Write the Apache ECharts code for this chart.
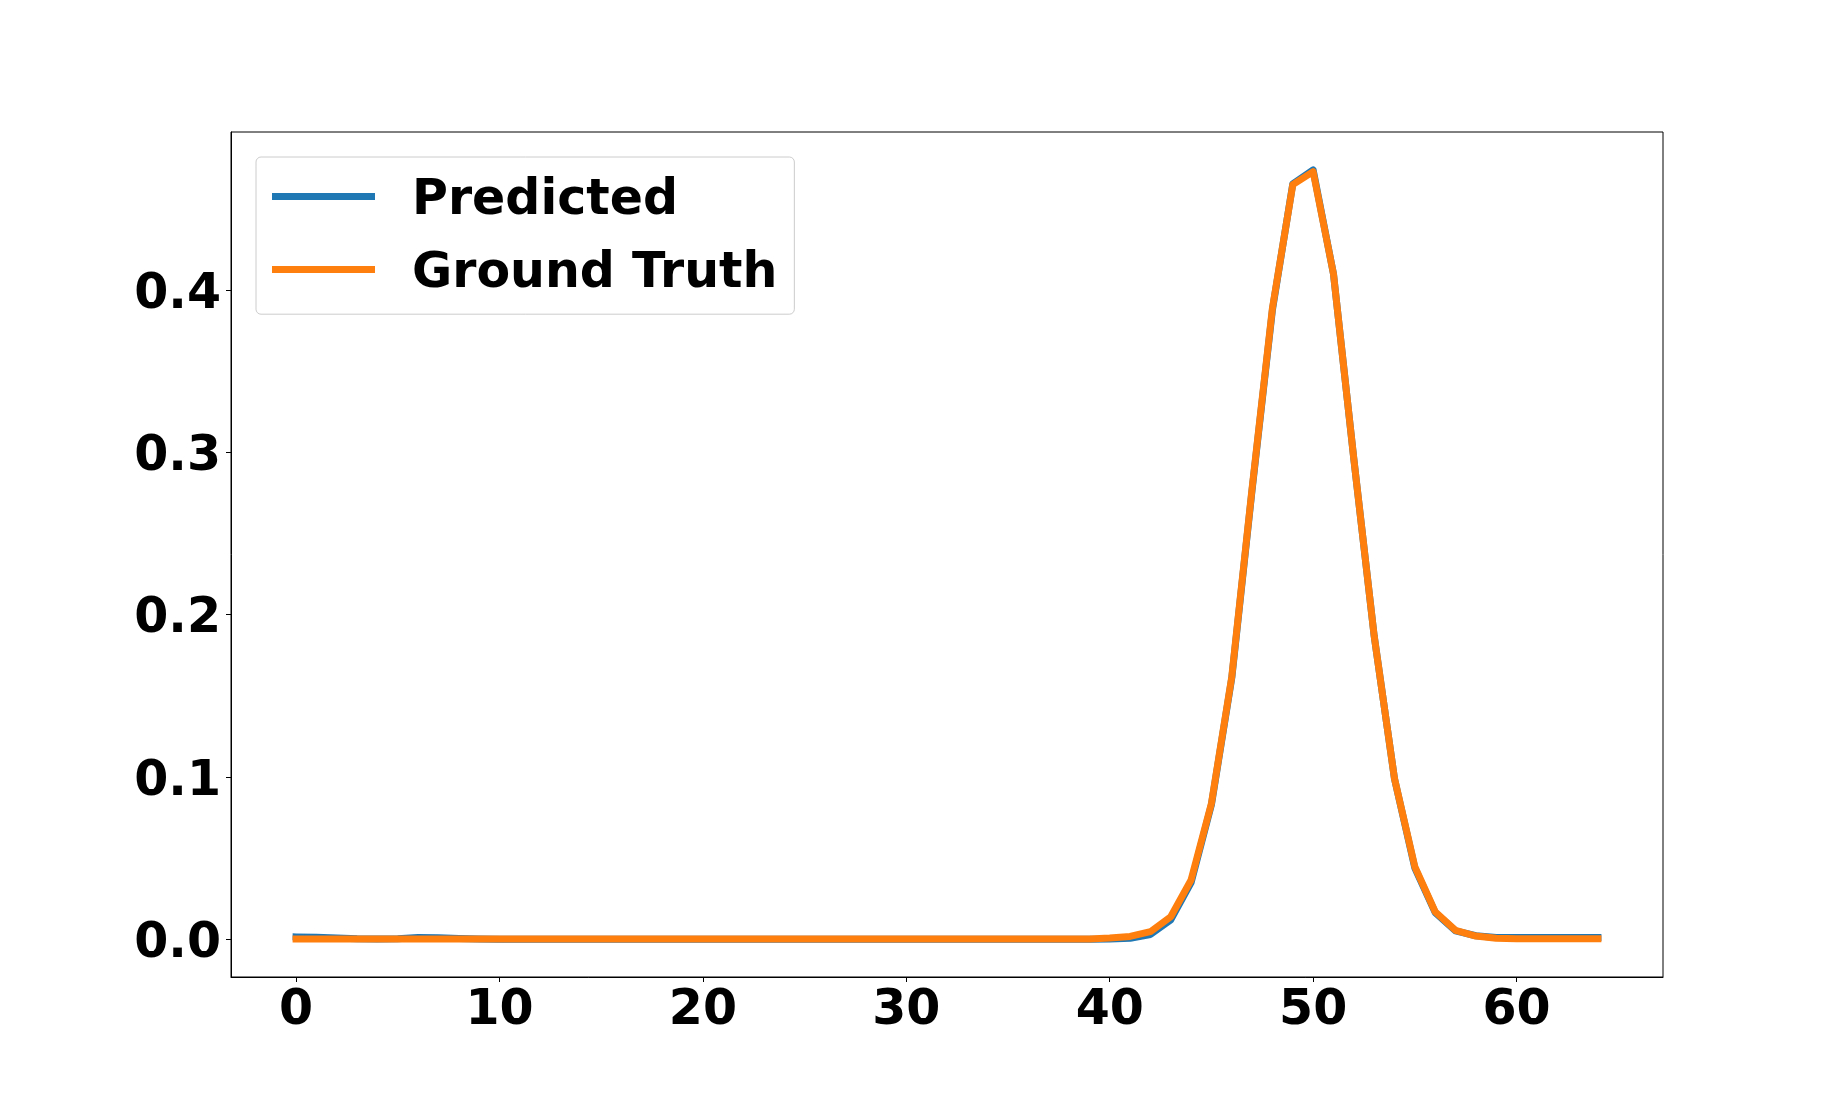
<!DOCTYPE html>
<html>
<head>
<meta charset="utf-8">
<script src="https://cdn.jsdelivr.net/npm/echarts@6/dist/echarts.min.js"></script>
<style>
html,body{margin:0;padding:0;background:#fff;}
#chart{width:1848px;height:1098px;}
</style>
</head>
<body>
<div id="chart"></div>
<script>
// x positions (sample index)
const steps = Array.from({length: 65}, (_, i) => i);

const predicted = [
  0.0015, 0.0013, 0.0009, 0.0003, 0.0002, 0.0004, 0.0012, 0.0010, 0.0005, 0.0002,
  0.0001, 0.0001, 0.0001, 0.0001, 0.0001, 0.0001, 0.0001, 0.0001, 0.0001, 0.0001,
  0.0001, 0.0001, 0.0001, 0.0001, 0.0001, 0.0001, 0.0001, 0.0001, 0.0001, 0.0001,
  0.0001, 0.0001, 0.0001, 0.0001, 0.0001, 0.0001, 0.0001, 0.0001, 0.0001, 0.0001,
  0.0002, 0.0006, 0.0030, 0.0120, 0.0350, 0.0830, 0.1610, 0.2770, 0.3880, 0.4655,
  0.4740, 0.4100, 0.2960, 0.1870, 0.0990, 0.0440, 0.0165, 0.0052, 0.0022, 0.0012,
  0.0012, 0.0012, 0.0012, 0.0012, 0.0012
];

const groundTruth = [
  0.0002, 0.0002, 0.0002, 0.0002, 0.0002, 0.0002, 0.0002, 0.0002, 0.0002, 0.0002,
  0.0002, 0.0002, 0.0002, 0.0002, 0.0002, 0.0002, 0.0002, 0.0002, 0.0002, 0.0002,
  0.0002, 0.0002, 0.0002, 0.0002, 0.0002, 0.0002, 0.0002, 0.0002, 0.0002, 0.0002,
  0.0002, 0.0002, 0.0002, 0.0002, 0.0002, 0.0002, 0.0002, 0.0002, 0.0002, 0.0002,
  0.0008, 0.0018, 0.0047, 0.0139, 0.0366, 0.0838, 0.1618, 0.2780, 0.3890, 0.4650,
  0.4730, 0.4100, 0.2960, 0.1870, 0.0990, 0.0447, 0.0170, 0.0055, 0.0020, 0.0007,
  0.0003, 0.0003, 0.0003, 0.0003, 0.0003
];

const xTicks = [0, 10, 20, 30, 40, 50, 60];
const yTicks = [0.0, 0.1, 0.2, 0.3, 0.4];

const seriesNames = ['Predicted', 'Ground Truth'];
const seriesColors = ['#1f77b4', '#ff7f0e'];

const FONT = 'DejaVu Sans';
const chart = echarts.init(document.getElementById('chart'), null, {renderer: 'canvas'});

const labelStyle = {
  fontFamily: FONT, fontWeight: 'bold', fontSize: 49, color: '#000'
};

const option = {
  animation: false,
  backgroundColor: '#fff',
  grid: {
    left: 231, right: 185, top: 132, bottom: 121,
    show: true, borderColor: '#000', borderWidth: 1,
    outerBoundsMode: 'none'
  },
  legend: {
    orient: 'vertical',
    left: 256, top: 157,
    padding: [20, 17, 15.2, 16],
    itemGap: 24,
    itemWidth: 103,
    itemHeight: 7,
    icon: 'rect',
    backgroundColor: '#fff',
    borderColor: '#cccccc',
    borderWidth: 1,
    borderRadius: 5,
    data: seriesNames,
    formatter: name => '{t|' + name + '}',
    textStyle: {
      fontFamily: FONT, fontWeight: 'bold', fontSize: 49, color: '#000',
      rich: {
        t: {fontFamily: FONT, fontWeight: 'bold', fontSize: 49, color: '#000', padding: [10, 0, 0, 32]}
      }
    }
  },
  xAxis: {
    type: 'value',
    min: -3.2, max: 67.2,
    splitLine: {show: false},
    axisLine: {show: true, onZero: false, lineStyle: {color: '#000', width: 1}},
    axisTick: {show: true, inside: false, length: 5, lineStyle: {color: '#000', width: 1}, customValues: xTicks},
    axisLabel: Object.assign({margin: 10, customValues: xTicks, formatter: v => String(v)}, labelStyle)
  },
  yAxis: {
    type: 'value',
    min: -0.0232, max: 0.4974,
    splitLine: {show: false},
    axisLine: {show: true, onZero: false, lineStyle: {color: '#000', width: 1}},
    axisTick: {show: true, inside: false, length: 5, lineStyle: {color: '#000', width: 1}, customValues: yTicks},
    axisLabel: Object.assign({
      margin: 10, customValues: yTicks,
      formatter: v => '{t|' + Number(v).toFixed(1) + '}',
      rich: {t: {fontFamily: FONT, fontWeight: 'bold', fontSize: 49, color: '#000', padding: [10, 0, 0, 0]}}
    }, labelStyle)
  },
  series: [
    {
      name: seriesNames[0], type: 'line', showSymbol: false, symbol: 'none',
      color: seriesColors[0],
      lineStyle: {color: seriesColors[0], width: 7, cap: 'square', join: 'round'},
      data: steps.map((x, i) => [x, predicted[i]]),
      z: 2
    },
    {
      name: seriesNames[1], type: 'line', showSymbol: false, symbol: 'none',
      color: seriesColors[1],
      lineStyle: {color: seriesColors[1], width: 7, cap: 'square', join: 'round'},
      data: steps.map((x, i) => [x, groundTruth[i]]),
      z: 3
    }
  ]
};
chart.setOption(option);
</script>
</body>
</html>
